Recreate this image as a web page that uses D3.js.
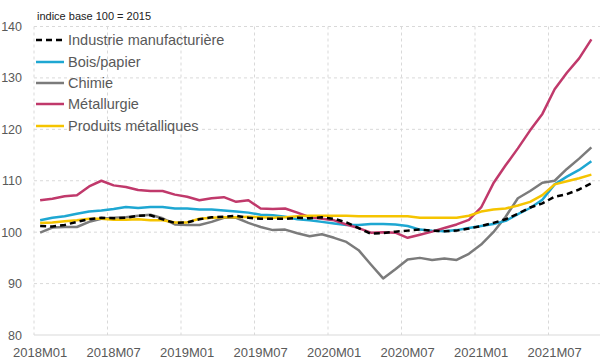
<!DOCTYPE html>
<html>
<head>
<meta charset="utf-8">
<script src="https://cdn.jsdelivr.net/npm/d3@7"></script>
<style>
  body { margin: 0; background: #fff; }
  text { font-family: "Liberation Sans", Arial, sans-serif; }
</style>
</head>
<body>
<script>
// monthly categories 2018M01 .. 2021M10
var months = [];
for (var yr = 2018; yr <= 2021; yr++) {
  for (var m = 1; m <= 12; m++) {
    if (yr == 2021 && m > 10) break;
    months.push(yr + "M" + (m < 10 ? "0" + m : m));
  }
}

var industrie = [101.2, 101.1, 101.4, 102.0, 102.5, 102.8, 102.7, 102.8, 103.2, 103.3, 102.5, 101.8,
                 101.9, 102.5, 102.9, 103.0, 103.2, 102.8, 102.6, 102.6, 102.6, 102.8, 102.7, 102.9,
                 102.6, 101.9, 100.8, 99.7, 99.8, 100.1, 100.3, 100.5, 100.3, 100.2, 100.3, 100.7,
                 101.2, 101.8, 102.5, 103.6, 104.8, 105.6, 106.9, 107.4, 108.3, 109.5];
var bois = [102.3, 102.8, 103.1, 103.6, 104.0, 104.2, 104.5, 104.9, 104.7, 104.9, 104.9, 104.6,
            104.6, 104.4, 104.4, 104.2, 104.0, 103.8, 103.4, 103.3, 103.0, 102.5, 102.3, 102.0,
            101.7, 101.4, 101.4, 101.6, 101.6, 101.5, 101.2, 100.5, 100.3, 100.2, 100.4, 100.8,
            101.2, 101.6, 102.2, 103.5, 104.7, 106.3, 109.3, 110.8, 112.1, 113.8];
var chimie = [99.9, 100.9, 101.0, 101.0, 102.0, 102.6, 102.8, 102.9, 103.2, 103.4, 102.7, 101.5,
              101.4, 101.4, 102.0, 102.8, 102.8, 101.8, 101.0, 100.4, 100.5, 99.8, 99.2, 99.6,
              98.9, 98.1, 96.5, 93.7, 91.0, 92.8, 94.7, 95.0, 94.6, 94.9, 94.6, 95.8,
              97.6, 100.0, 103.0, 106.6, 108.0, 109.6, 110.0, 112.3, 114.3, 116.5];
var metallurgie = [106.2, 106.5, 107.0, 107.2, 108.9, 110.0, 109.1, 108.8, 108.2, 108.0, 108.0, 107.3,
                   106.9, 106.2, 106.6, 106.8, 105.9, 106.2, 104.6, 104.5, 104.6, 103.8, 102.9, 102.6,
                   102.3, 101.5, 100.8, 99.9, 100.0, 99.9, 98.9, 99.5, 100.1, 100.8, 101.5, 102.4,
                   104.8, 109.5, 113.0, 116.3, 119.8, 123.0, 127.8, 131.0, 133.8, 137.5];
var produits = [101.8, 101.9, 102.1, 102.3, 102.6, 102.6, 102.4, 102.4, 102.5, 102.3, 102.3, 101.9,
                101.9, 102.6, 102.8, 102.9, 102.9, 103.0, 102.9, 102.8, 102.9, 103.1, 103.2, 103.2,
                103.2, 103.2, 103.1, 103.1, 103.1, 103.1, 103.1, 102.8, 102.8, 102.8, 102.8, 103.2,
                104.0, 104.4, 104.6, 105.2, 105.9, 107.2, 109.3, 109.9, 110.5, 111.2];

var seriesNames = ["Industrie manufacturière", "Bois/papier", "Chimie", "Métallurgie", "Produits métalliques"];
var seriesColors = ["#000000", "#1ea7d2", "#7b7b7b", "#c0396b", "#f5c400"];
var seriesValues = [industrie, bois, chimie, metallurgie, produits];

var yTicks = [80, 90, 100, 110, 120, 130, 140];

var W = 600, H = 364;
var plotLeft = 34, plotRight = 597.5, plotTop = 26.5, plotBottom = 335;

var svg = d3.select("body").append("svg")
  .attr("width", W)
  .attr("height", H);

var x = d3.scaleBand()
  .domain(d3.range(months.length))
  .range([plotLeft, plotRight])
  .paddingInner(0).paddingOuter(0);

var y = d3.scaleLinear()
  .domain([80, 140])
  .range([plotBottom, plotTop]);

// horizontal grid
svg.append("g").selectAll("line")
  .data(yTicks.filter(function(d){ return d > 80; }))
  .enter().append("line")
  .attr("x1", plotLeft).attr("x2", W)
  .attr("y1", function(d){ return y(d); })
  .attr("y2", function(d){ return y(d); })
  .style("stroke", "#d9d9d9")
  .style("stroke-dasharray", "3,3")
  .style("stroke-width", 1);

// vertical grid every 6 months (category boundaries)
var tickIdx = d3.range(0, months.length, 6);
svg.append("g").selectAll("line")
  .data(tickIdx)
  .enter().append("line")
  .attr("x1", function(d){ return x(d); })
  .attr("x2", function(d){ return x(d); })
  .attr("y1", plotTop).attr("y2", plotBottom)
  .style("stroke", "#d9d9d9")
  .style("stroke-dasharray", "3,3")
  .style("stroke-width", 1);

// bottom axis line
svg.append("line")
  .attr("x1", plotLeft).attr("x2", W)
  .attr("y1", y(80)).attr("y2", y(80))
  .style("stroke", "#d9d9d9")
  .style("stroke-width", 1.2);

// y labels
svg.append("g").selectAll("text")
  .data(yTicks)
  .enter().append("text")
  .attr("x", 22)
  .attr("y", function(d){ return y(d) + 4.5; })
  .attr("text-anchor", "end")
  .style("font-size", "12.5px")
  .style("fill", "#595959")
  .text(function(d){ return d; });

// x labels
svg.append("g").selectAll("text")
  .data(tickIdx)
  .enter().append("text")
  .attr("x", function(d){ return x(d) + x.bandwidth() / 2; })
  .attr("y", 357)
  .attr("text-anchor", "middle")
  .style("font-size", "13px")
  .style("fill", "#595959")
  .text(function(d){ return months[d]; });

// lines (black last so it sits on top)
var line = d3.line()
  .x(function(d, i){ return x(i) + x.bandwidth() / 2; })
  .y(function(d){ return y(d); });

var order = [2, 1, 3, 4, 0];
order.forEach(function(k){
  svg.append("path")
    .datum(seriesValues[k])
    .attr("d", line)
    .style("fill", "none")
    .style("stroke", seriesColors[k])
    .style("stroke-width", 2.5)
    .style("stroke-linejoin", "round")
    .style("stroke-dasharray", k == 0 ? "6,4" : null);
});

// title
svg.append("text")
  .attr("x", 37).attr("y", 20)
  .style("font-size", "11px")
  .style("fill", "#222")
  .text("indice base 100 = 2015");

// legend
var legY = [40, 62, 83, 104, 126];
seriesNames.forEach(function(name, k){
  svg.append("line")
    .attr("x1", 36).attr("x2", 64)
    .attr("y1", legY[k]).attr("y2", legY[k])
    .style("stroke", seriesColors[k])
    .style("stroke-width", 2.5)
    .style("stroke-dasharray", k == 0 ? "6,4" : null);
  svg.append("text")
    .attr("x", 68).attr("y", legY[k] + 5)
    .style("font-size", "14.5px")
    .style("fill", "#595959")
    .text(name);
});
</script>
</body>
</html>
